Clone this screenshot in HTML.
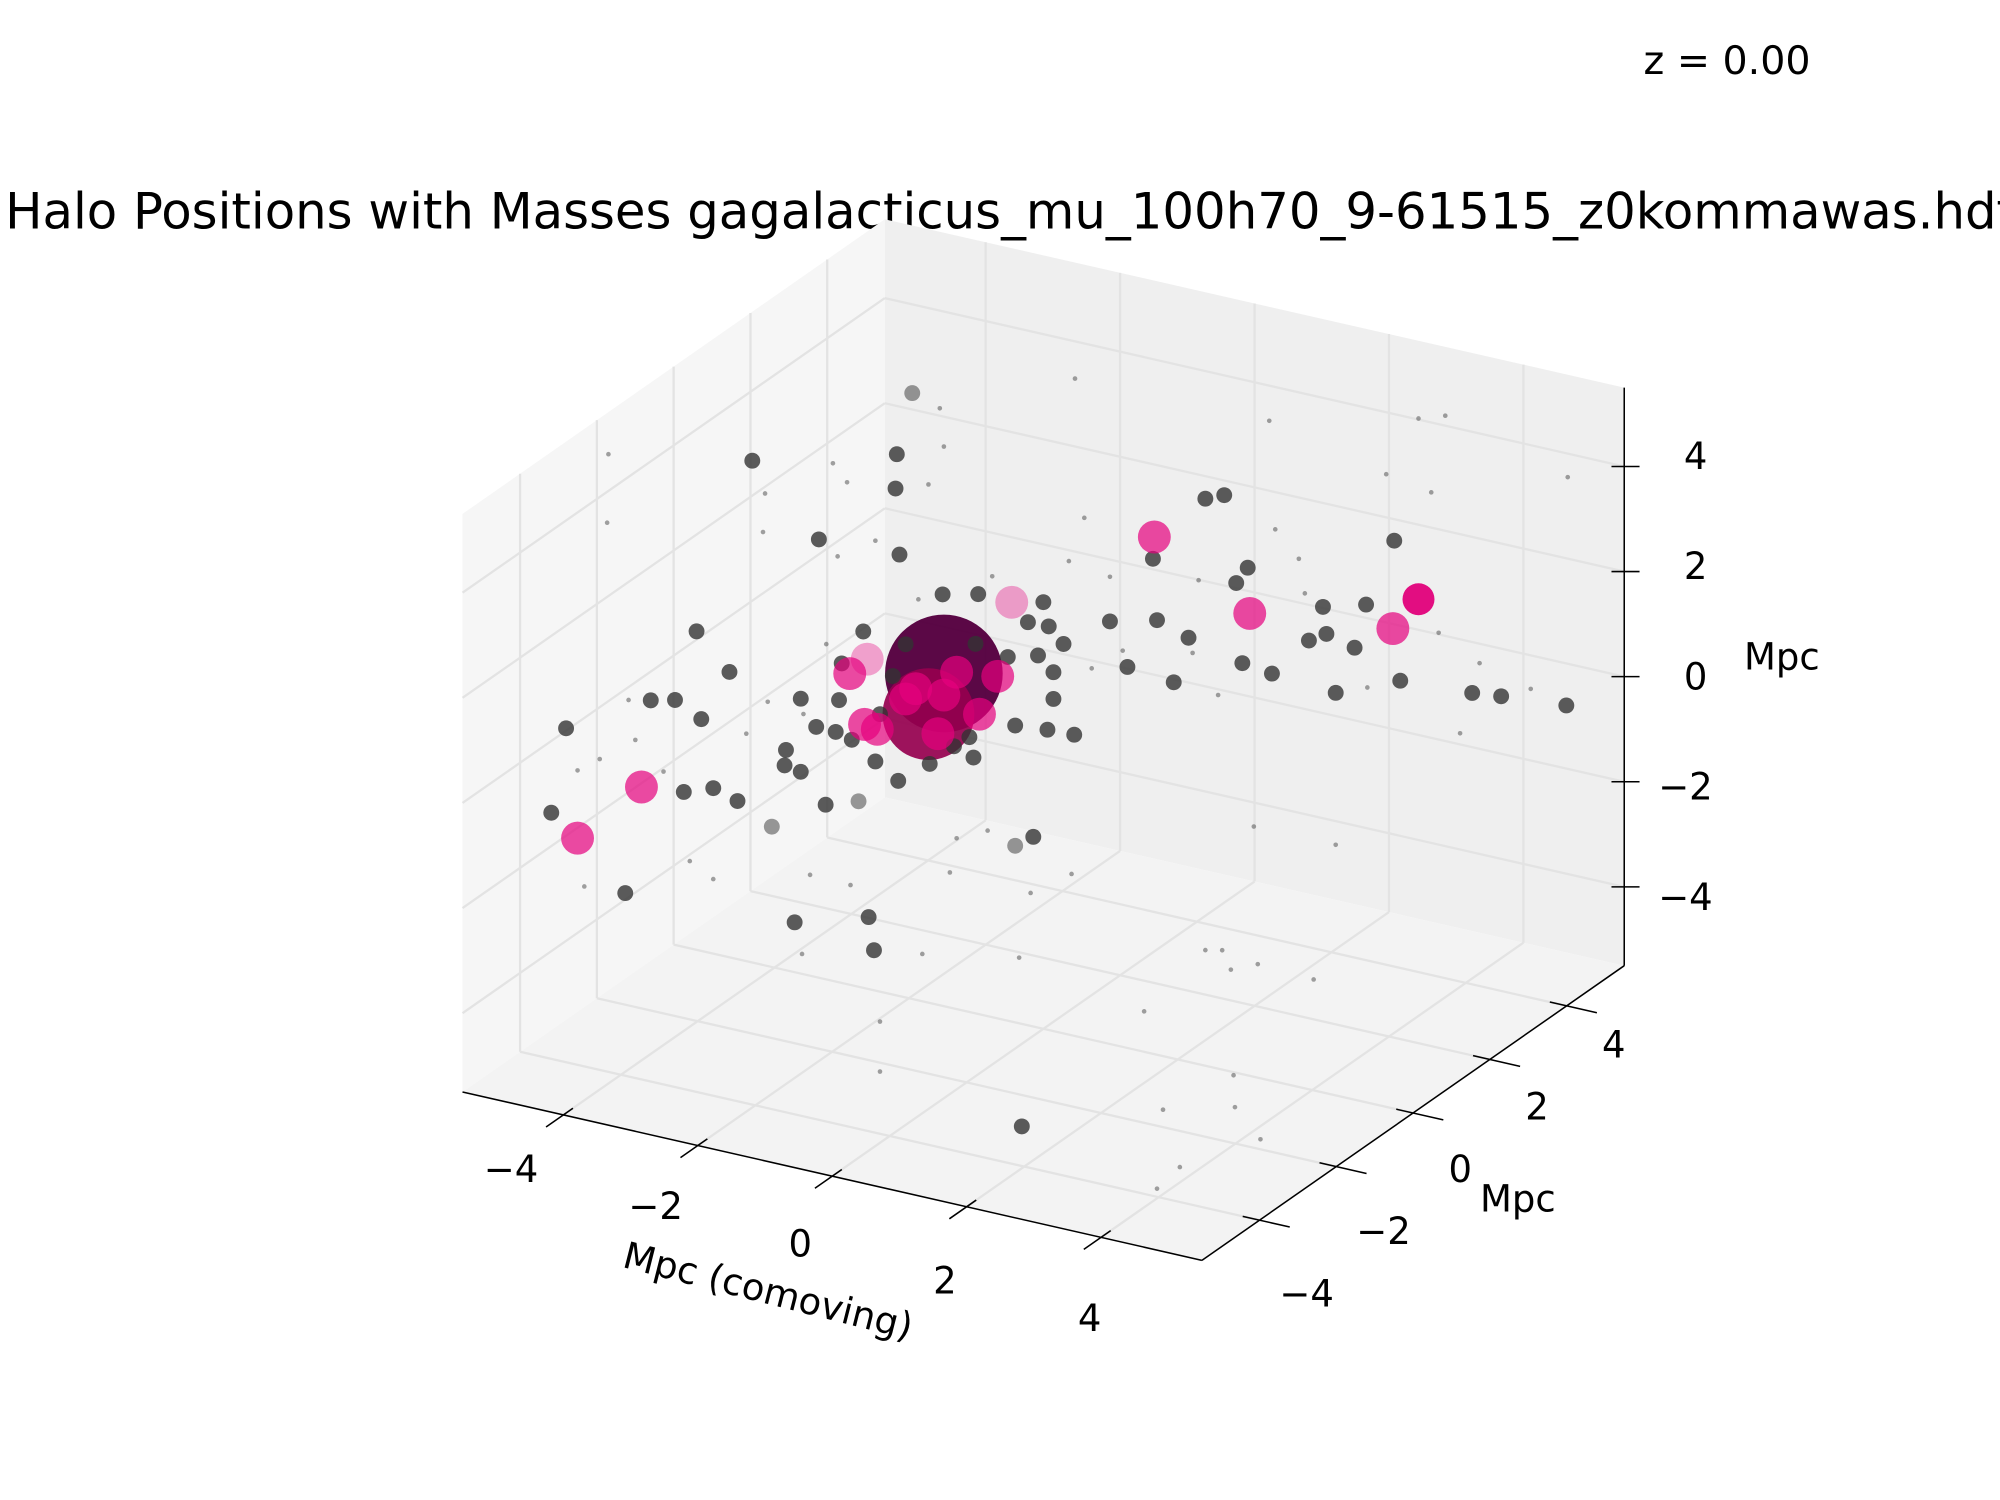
<!DOCTYPE html>
<html><head><meta charset="utf-8"><style>
html,body{margin:0;padding:0;background:#fff;}
svg{display:block;font-family:"DejaVu Sans","Liberation Sans",sans-serif;}
</style></head><body>
<svg id="chart" width="2000" height="1500" viewBox="0 0 1568 1176" xmlns="http://www.w3.org/2000/svg">
<rect width="1568" height="1176" fill="#fff"/>
<text x="1354" y="58" font-size="31" text-anchor="middle" fill="#000">z = 0.00</text>
<text x="4" y="179" font-size="39" fill="#000">Halo Positions with Masses gagalacticus_mu_100h70_9-61515_z0kommawas.hdf5</text>
<g id="panes"></g><g id="grid"></g><g id="axes"></g><g id="marks"></g>
</svg>
<script>
// ---- data (Mpc, comoving); y assumed 0 ----
const haloX = [-1.48,-1.71,
-4.33,-2.18,-2.20,-1.95,-3.34,-2.14,-5.16,-4.67,-5.84,-5.48,-5.09,-7.10,-7.32,-6.22,-5.35,-4.91,-4.55,-4.04,-3.24,-2.75,-3.83,-3.85,-3.61,-3.61,-3.04,-3.09,-2.85,-2.50,-2.16,-1.69,-1.04,-1.33,-0.42,0.06,0.46,-0.15,-0.42,-3.70,-2.60,-2.52,-0.32,-1.50,-0.97,0.00,-0.23,0.08,0.30,0.15,0.15,-0.08,0.99,1.25,1.94,1.69,2.16,1.63,2.41,2.69,3.04,2.87,2.96,3.40,4.16,4.80,3.95,4.21,5.22,5.31,4.35,6.38,6.81,7.78,4.63,-3.00,-2.68,-2.05,-2.24,-1.01,-0.53,-3.38,-2.43,-1.10,
-6.47,-6.49,-4.14,-3.13,-2.92,-1.54,-1.48,-1.71,0.47,3.36,5.58,5.98,5.10,5.77,7.80,0.61,-3.06,-2.50,-4.17,-6.17,-6.07,-6.93,-6.83,-5.26,-4.91,-3.47,-2.87,-3.59,-1.80,-0.36,-1.39,-1.29,-0.83,0.42,-0.19,3.13,4.35,2.41,2.66,2.79,3.19,4.02,1.50,-2.43,-2.43,2.83,1.78,2.85,3.23,2.03,1.69,0.99,2.31,3.45,3.80,5.88,6.49,7.25,6.20,4.82,3.89,0.72,1.18,-3.23,-3.57,-4.10,-4.42,-5.65,-6.60,-1.86,-0.76,0.38,2.22,2.60,
-1.29,-1.90,-0.95,-0.68,-1.48,-2.05,-1.57,-2.88,-2.62,-2.47,-2.66,-0.47,1.65,3.07,5.20,5.58,-5.98,-6.93];
const haloZ = [0.83,-0.01,
4.05,4.80,4.14,6.03,2.84,2.90,0.56,-0.07,-0.95,-0.84,-1.09,-1.85,-3.52,-4.73,-2.55,-2.35,-2.49,-2.83,-2.18,-1.97,-1.31,-1.61,-1.66,-0.27,-0.13,-0.75,-0.83,-1.14,-1.41,-0.95,-0.64,-0.51,0.15,0.21,0.23,-1.89,-2.14,-4.55,-4.13,-4.74,-7.45,2.33,2.49,2.62,2.17,2.18,1.91,1.33,0.82,1.58,2.54,1.75,1.66,2.77,2.57,3.92,5.29,5.44,4.16,3.82,2.32,2.25,3.74,3.97,3.04,3.24,5.31,2.67,2.16,2.75,2.81,2.92,3.10,0.58,1.28,1.22,0.56,1.53,1.42,-0.74,-0.22,-0.27,
3.55,2.24,3.48,4.35,4.05,5.86,5.15,4.36,7.01,7.05,7.74,7.91,6.54,6.39,7.27,4.40,2.60,3.06,2.74,-1.04,-1.77,-2.60,-4.78,-3.84,-4.08,-3.58,-3.60,-5.12,-4.60,-4.25,-2.93,-2.25,-1.97,-2.43,-2.97,-0.74,-0.73,-3.30,-3.23,-3.56,-3.34,-3.39,-4.73,-6.07,-7.02,-5.56,-6.52,-6.16,-6.66,-7.54,-8.05,3.39,3.71,5.01,4.55,3.75,3.35,3.08,1.93,2.40,3.92,1.57,2.04,0.88,-0.55,-0.47,-1.17,-2.25,-2.29,2.13,2.89,3.51,2.30,1.61,
0.91,0.42,0.21,1.01,0.42,0.18,-0.34,0.42,0.77,-0.52,-0.48,2.48,4.34,3.30,3.63,4.30,-2.64,-3.89];
const bigKinds   = "dm";
const grayKinds  = "ggglgggggg" + "ggggggglgl" + "gggggggggg" + "gggggglggg" + "gggggggggg" + "gggggggggg" + "gggggggggg" + "gggggggggg" + "gg";
const smallKinds = "ssssssssss" + "ssssssssss" + "ssssssssss" + "ssssssssss" + "ssssssssss" + "ssssssssss" + "ssssssssss" + "ssss";
const pinkKinds  = "ppppppppqppqpppbpp";
const haloKind = (bigKinds + grayKinds + smallKinds + pinkKinds).split('');
const massByKind = {d:115, m:70, g:2.1, l:2.1, s:0.18, p:9, q:9, b:8.5};
const tickValues = [-4,-2,0,2,4];
const tickLabels = ["\u22124","\u22122","0","2","4"];

// ---- projection ----
const L = 5.5;
const O=[818,580], EX=[52.7,12], EY=[30.1,-21], EZ=[0,-41.2];
function P(x,y,z){return [O[0]+x*EX[0]+y*EY[0]+z*EZ[0], O[1]+x*EX[1]+y*EY[1]+z*EZ[1]];}
const NS='http://www.w3.org/2000/svg';
function mk(tag,attrs,parent){const e=document.createElementNS(NS,tag);for(const k in attrs)e.setAttribute(k,attrs[k]);parent.appendChild(e);return e;}
function pts(a){return a.map(p=>p[0].toFixed(1)+','+p[1].toFixed(1)).join(' ');}

const panes=document.getElementById('panes');
let e;
e=mk('polygon',{points:pts([P(-L,-L,-L),P(-L,L,-L),P(-L,L,L),P(-L,-L,L)]),fill:'#f6f6f6'},panes);


e=mk('polygon',{points:pts([P(-L,L,-L),P(L,L,-L),P(L,L,L),P(-L,L,L)]),fill:'#efefef'},panes);


e=mk('polygon',{points:pts([P(-L,-L,-L),P(L,-L,-L),P(L,L,-L),P(-L,L,-L)]),fill:'#f3f3f3'},panes);



const grid=document.getElementById('grid');
function gl(a,b){const l=mk('line',{x1:a[0],y1:a[1],x2:b[0],y2:b[1],stroke:'#e3e3e3','stroke-width':1.8},grid);

}
tickValues.forEach(t=>{
  gl(P(-L,t,-L),P(-L,t,L)); gl(P(-L,-L,t),P(-L,L,t));
  gl(P(t,L,-L),P(t,L,L)); gl(P(-L,L,t),P(L,L,t));
  gl(P(t,-L,-L),P(t,L,-L)); gl(P(-L,t,-L),P(L,t,-L));
});

const axes=document.getElementById('axes');
function al(a,b,name){const l=mk('line',{x1:a[0],y1:a[1],x2:b[0],y2:b[1],stroke:'#000','stroke-width':1.2},axes);

}
function tx(x,y,s,name,extra){const t=mk('text',Object.assign({x:x,y:y,'font-size':29,'text-anchor':'middle',fill:'#000'},extra||{}),axes);t.textContent=s;

}
al(P(-L,-L,-L),P(L,-L,-L),'x-axis-line');
al(P(L,-L,-L),P(L,L,-L),'y-axis-line');
al(P(L,L,-L),P(L,L,L),'z-axis-line');
tickValues.forEach((t,i)=>{
  const a=P(t,-L+0.25,-L), b=P(t,-L-0.45,-L); al(a,b,'x-tick');
  const p=P(t,-L,-L); tx(p[0]-25+4*t, p[1]+53+2.6*t+10, tickLabels[i],'x-tick-label');
  const c=P(L-0.25,t,-L), d=P(L+0.45,t,-L); al(c,d,'y-tick');
  const q=P(L,t,-L); tx(q[0]+37, q[1]+44-3.4*t+10, tickLabels[i],'y-tick-label');
  const r=P(L,L,t); al([r[0]-10,r[1]],[r[0]+12,r[1]],'z-tick');
  tx(r[0]+56-(t<0?8:0), r[1]+10-2*t, tickLabels[i],'z-tick-label');
});
tx(602,1022,'Mpc (comoving)','x-axis-title',{transform:'rotate(14.2 602 1013)'});
tx(1190,950,'Mpc','y-axis-title');
tx(1397,525,'Mpc','z-axis-title');

const marks=document.getElementById('marks');
const fillByKind={d:'#560040',m:'#96004f',g:'#333333',l:'#333333',s:'#333333',p:'#e6007e',q:'#e6007e',b:'#e0007a'};
const opByKind={d:0.97,m:0.92,g:0.8,l:0.5,s:0.45,p:0.7,q:0.35,b:0.95};
for(let i=0;i<haloX.length;i++){
  const k=haloKind[i], p=P(haloX[i],0,haloZ[i]);
  const c=mk('circle',{cx:p[0].toFixed(1),cy:p[1].toFixed(1),r:(4.3*Math.sqrt(massByKind[k])).toFixed(2),fill:fillByKind[k],'fill-opacity':opByKind[k]},marks);
  
  
}
</script>
</body></html>
